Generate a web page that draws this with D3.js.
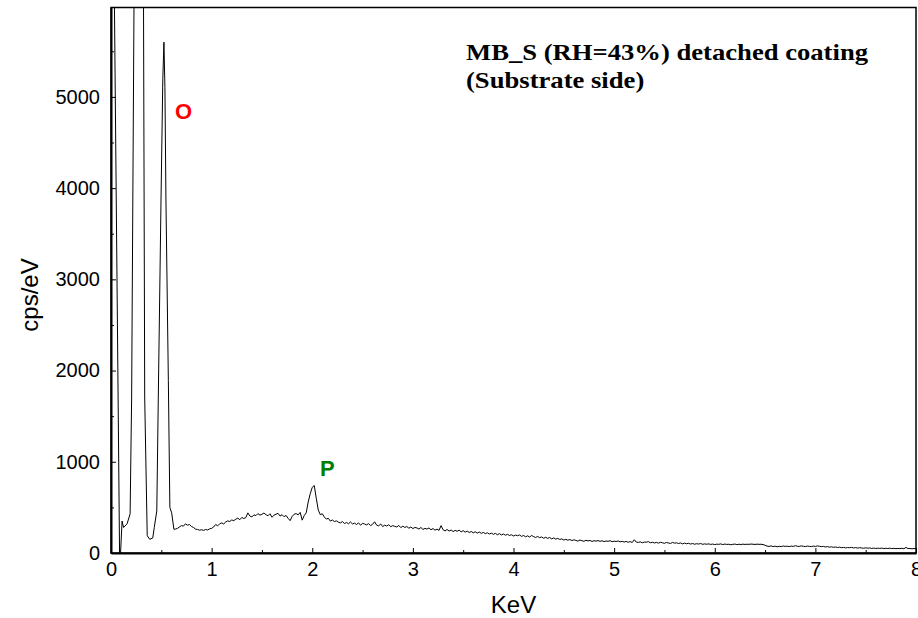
<!DOCTYPE html>
<html>
<head>
<meta charset="utf-8">
<script src="https://cdn.jsdelivr.net/npm/d3@7"></script>
<style>
  body { margin: 0; background: #fff; }
  svg { display: block; }
</style>
</head>
<body>
<div id="chart"></div>
<script>
/* global d3 */

// Peak region, read point by point (keV, cps/eV)
const peakKeV = [0.03, 0.085, 0.095, 0.11, 0.125, 0.16, 0.19, 0.205, 0.245, 0.28, 0.315, 0.335,
  0.36, 0.385, 0.415, 0.43, 0.455, 0.47, 0.497, 0.515, 0.526, 0.536, 0.546, 0.57, 0.585, 0.603, 0.625]
const peakCps = [6500, 0, 0, 350, 280, 320, 430, 1700, 9000, 15000, 9000, 1700,
  190, 150, 165, 280, 460, 1700, 3870, 5200, 5600, 5100, 3870, 1890, 500, 440, 260]

// Background channels, 0.02 keV apart, starting at 0.64 keV
const bgStart = 0.64
const bgStep = 0.02
const bgCps = [
  262, 270, 285, 300, 295,  320, 305, 312, 290, 280,  262, 258, 250, 255, 248,
  258, 252, 265, 270, 285,  312, 298, 320, 330, 318,  340, 352, 345, 362, 355,
  370, 382, 365, 390, 378,  388, 440, 405, 395, 418,  410, 432, 415, 425, 438,
  420, 408, 430, 392, 415,  425, 435, 405, 420, 398,  412, 380, 355, 400, 425,
  432, 418, 445, 360, 410,  440, 560, 650, 720, 740,  600, 470, 420, 430, 395,
  372, 380, 350, 362, 345,  352, 338, 330, 345, 322,  335, 320, 340, 318, 328,
  312, 330, 305, 325, 318,  308, 322, 300, 315, 342,  305, 298, 318, 290, 305,
  296, 310, 288, 300, 292,  285, 302, 278, 295, 280,  290, 272, 285, 268, 280,
  275, 262, 280, 258, 270,  262, 275, 255, 268, 250,  262, 248, 300, 255, 242,
  258, 240, 252, 235, 248,  238, 250, 232, 245, 228,  240, 225, 236, 222, 232,
  218, 230, 215, 226, 212,  222, 208, 218, 205, 215,  200, 212, 198, 208, 195,
  205, 192, 200, 186, 196,  190, 198, 182, 192, 178,  188, 175, 192, 180, 170,
  182, 168, 176, 162, 172,  160, 170, 155, 165, 152,  160, 148, 155, 142, 150,
  140, 148, 136, 145, 138,  130, 142, 135, 128, 140,  132, 138, 126, 135, 130,
  136, 128, 134, 125, 132,  128, 135, 124, 130, 126,  132, 122, 128, 120, 127,
  118, 125, 115, 145, 120,  116, 122, 112, 120, 118,  125, 112, 118, 110, 116,
  108, 118, 112, 106, 115,  110, 104, 116, 108, 112,  104, 110, 100, 108, 102,
  106, 98, 104, 96, 102,    98, 104, 95, 100, 96,    100, 94, 98, 92, 97,
  95, 100, 92, 98, 94,      96, 90, 95, 98, 92,      96, 93, 97, 94, 96,
  95, 98, 96, 94, 97,       95, 96, 92, 85, 76,      72, 78, 70, 75, 68,
  74, 70, 77, 72, 75,       70, 76, 72, 80, 74,      72, 78, 74, 70, 76,
  73, 70, 76, 72, 78,       74, 70, 72, 66, 70,      64, 68, 62, 66, 60,
  64, 58, 62, 56, 60,       58, 62, 55, 60, 54,      58, 55, 52, 57, 53,
  55, 50, 54, 49, 53,       50, 54, 48, 52, 49,      53, 48, 51, 47, 50,
  48, 52, 46, 62, 48,       50, 46, 49, 47
]

const xTicks = [0, 1, 2, 3, 4, 5, 6, 7, 8]
const yTicks = [0, 1000, 2000, 3000, 4000, 5000]
const titleLines = ['MB_S (RH=43%) detached coating', '(Substrate side)']
const peakLabels = [
  { name: 'O', keV: 0.72, cps: 4760, color: '#ff0000' },
  { name: 'P', keV: 2.15, cps: 845, color: '#008000' }
]

const sans = '"Liberation Sans", Arial, sans-serif'

// Our canvas
const width = 918,
height = 618,
plotLeft = 111,
plotRight = 916,
plotTop = 7.5,
plotBottom = 553

let svg = d3.select('#chart')
.append('svg')
.attr('width', width)
.attr('height', height)

const x = d3.scaleLinear().domain([0, 8]).range([plotLeft, plotRight])
const y = d3.scaleLinear().domain([0, 5980]).range([plotBottom, plotTop])

// spectrum points
let data = peakKeV.map((k, i) => [k, peakCps[i]])
bgCps.forEach((v, i) => data.push([bgStart + i * bgStep, v]))

svg.append('clipPath').attr('id', 'clip')
.append('rect')
.attr('x', plotLeft).attr('y', plotTop)
.attr('width', plotRight - plotLeft).attr('height', plotBottom - plotTop)

svg.append('path')
.datum(data)
.attr('clip-path', 'url(#clip)')
.attr('fill', 'none')
.attr('stroke', '#000')
.attr('stroke-width', 1)
.attr('d', d3.line().x(d => x(d[0])).y(d => y(d[1])))

// frame
svg.append('rect')
.attr('x', plotLeft).attr('y', plotTop)
.attr('width', plotRight - plotLeft).attr('height', plotBottom - plotTop)
.attr('fill', 'none')
.attr('stroke', '#000')
.attr('stroke-width', 1.5)

// minor ticks
svg.append('g')
.attr('transform', `translate(0,${plotBottom})`)
.call(d3.axisBottom(x).tickValues(d3.range(0.5, 8, 1)).tickSize(-3).tickFormat(''))
.call(g => g.select('.domain').remove())

svg.append('g')
.attr('transform', `translate(${plotLeft},0)`)
.call(d3.axisLeft(y).tickValues(d3.range(500, 6000, 1000)).tickSize(-3).tickFormat(''))
.call(g => g.select('.domain').remove())

// main axes
svg.append('g')
.attr('transform', `translate(0,${plotBottom})`)
.call(d3.axisBottom(x).tickValues(xTicks).tickFormat(d3.format('d'))
  .tickSizeInner(-5).tickSizeOuter(0).tickPadding(9))

svg.append('g')
.attr('transform', `translate(${plotLeft},0)`)
.call(d3.axisLeft(y).tickValues(yTicks).tickFormat(d3.format('d'))
  .tickSizeInner(-5).tickSizeOuter(0).tickPadding(11))

svg.selectAll('.domain').attr('stroke-width', 2)
svg.selectAll('.tick text')
.attr('font-size', 20)
.attr('font-family', sans)
.attr('fill', '#000')

svg.append('text')
.attr('x', (plotLeft + plotRight) / 2)
.attr('y', 613)
.attr('text-anchor', 'middle')
.attr('font-family', sans)
.attr('font-size', 24)
.text('KeV')

svg.append('text')
.attr('transform', `translate(38,295) rotate(-90)`)
.attr('text-anchor', 'middle')
.attr('font-family', sans)
.attr('font-size', 24)
.text('cps/eV')

// title (the original type is a little wider than Liberation Serif)
svg.append('g')
.attr('transform', 'translate(466,0) scale(1.11,1)')
.selectAll('text')
.data(titleLines)
.enter()
.append('text')
.attr('x', 0)
.attr('y', (d, i) => 60 + i * 28)
.attr('font-family', '"Liberation Serif", "Times New Roman", serif')
.attr('font-weight', 'bold')
.attr('font-size', 24)
.text(d => d)

// peak labels
svg.selectAll('.peak')
.data(peakLabels)
.enter()
.append('text')
.attr('class', 'peak')
.attr('x', d => x(d.keV))
.attr('y', d => y(d.cps))
.attr('text-anchor', 'middle')
.attr('font-family', sans)
.attr('font-weight', 'bold')
.attr('font-size', 22)
.attr('fill', d => d.color)
.text(d => d.name)
</script>
</body>
</html>
